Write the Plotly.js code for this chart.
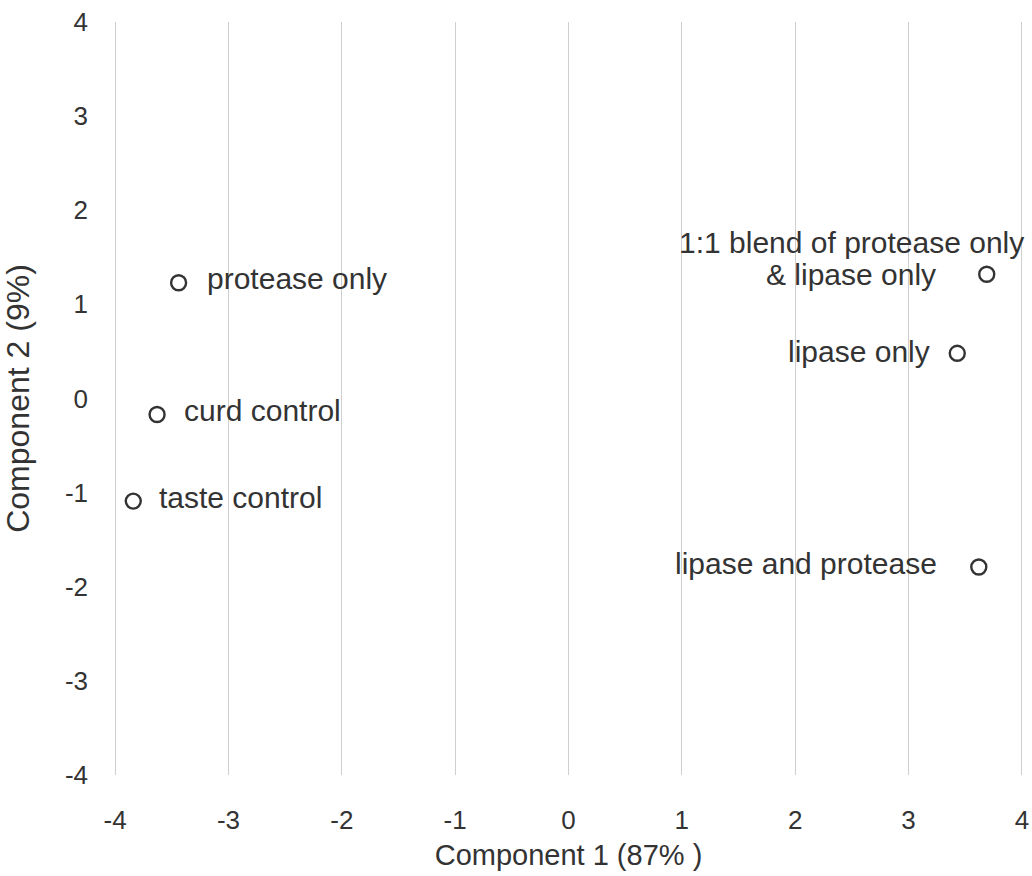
<!DOCTYPE html>
<html>
<head>
<meta charset="utf-8">
<script src="https://cdn.plot.ly/plotly-3.0.1.min.js"></script>
<style>
  html, body { margin: 0; padding: 0; background: #fff; }
  #chart { width: 1032px; height: 876px; }
</style>
</head>
<body>
<div id="chart"></div>
<script>
// PCA scores of the cheese treatments
const treatments = [
  "protease only",
  "curd control",
  "taste control",
  "1:1 blend of protease only & lipase only",
  "lipase only",
  "lipase and protease"
];
const component1 = [-3.44, -3.63, -3.84, 3.69, 3.43, 3.62];
const component2 = [1.23, -0.17, -1.09, 1.32, 0.48, -1.79];

const tickValues = [-4, -3, -2, -1, 0, 1, 2, 3, 4];
const tickLabels = ["-4", "-3", "-2", "-1", "0", "1", "2", "3", "4"];

// label placement per point: text lines, anchor side and pixel offsets
const labelSpecs = [
  [{ text: "protease only", side: "left", dx: 26, dy: 4 }],
  [{ text: "curd control", side: "left", dx: 25, dy: 4 }],
  [{ text: "taste control", side: "left", dx: 24, dy: 4 }],
  [
    { text: "1:1 blend of protease only", side: "right", dx: 39, dy: 32 },
    { text: "& lipase only", side: "right", dx: -49, dy: 0 }
  ],
  [{ text: "lipase only", side: "right", dx: -25, dy: 2 }],
  [{ text: "lipase and protease", side: "right", dx: -40, dy: 3 }]
];

const ink = "#333333";
const fontFamily = "'Liberation Sans', Arial, Helvetica, sans-serif";

const annotations = [];
labelSpecs.forEach((lines, i) => {
  lines.forEach(l => {
    annotations.push({
      x: component1[i], y: component2[i], xref: "x", yref: "y",
      text: l.text, showarrow: false,
      xanchor: l.side, yanchor: "middle",
      xshift: l.dx, yshift: l.dy,
      font: { family: fontFamily, size: 30, color: ink }
    });
  });
});

const trace = {
  x: component1,
  y: component2,
  text: treatments,
  mode: "markers",
  type: "scatter",
  hoverinfo: "text",
  marker: {
    symbol: "circle-open",
    size: 15,
    color: ink,
    line: { width: 2.4, color: ink }
  },
  cliponaxis: false
};

const layout = {
  width: 1032,
  height: 876,
  margin: { l: 114, r: 9, t: 22, b: 101 },
  paper_bgcolor: "#ffffff",
  plot_bgcolor: "#ffffff",
  showlegend: false,
  font: { family: fontFamily, size: 26, color: ink },
  xaxis: {
    range: [-4.01, 4.01],
    tickvals: tickValues,
    ticktext: tickLabels,
    showgrid: true,
    gridcolor: "#cfcfcf",
    gridwidth: 1,
    zeroline: false,
    showline: false,
    ticks: "",
    ticklabelstandoff: 27,
    tickfont: { family: fontFamily, size: 26, color: ink },
    title: { text: "Component 1 (87% )", standoff: 10, font: { family: fontFamily, size: 29, color: ink } }
  },
  yaxis: {
    range: [-4, 4],
    tickvals: tickValues,
    ticktext: tickLabels,
    showgrid: false,
    zeroline: false,
    showline: false,
    ticks: "",
    ticklabelstandoff: 25,
    tickfont: { family: fontFamily, size: 26, color: ink },
    title: { text: "Component 2 (9%)", standoff: 27, font: { family: fontFamily, size: 32, color: ink } }
  },
  annotations: annotations
};

Plotly.newPlot("chart", [trace], layout, { displayModeBar: false, staticPlot: true });
</script>
</body>
</html>
